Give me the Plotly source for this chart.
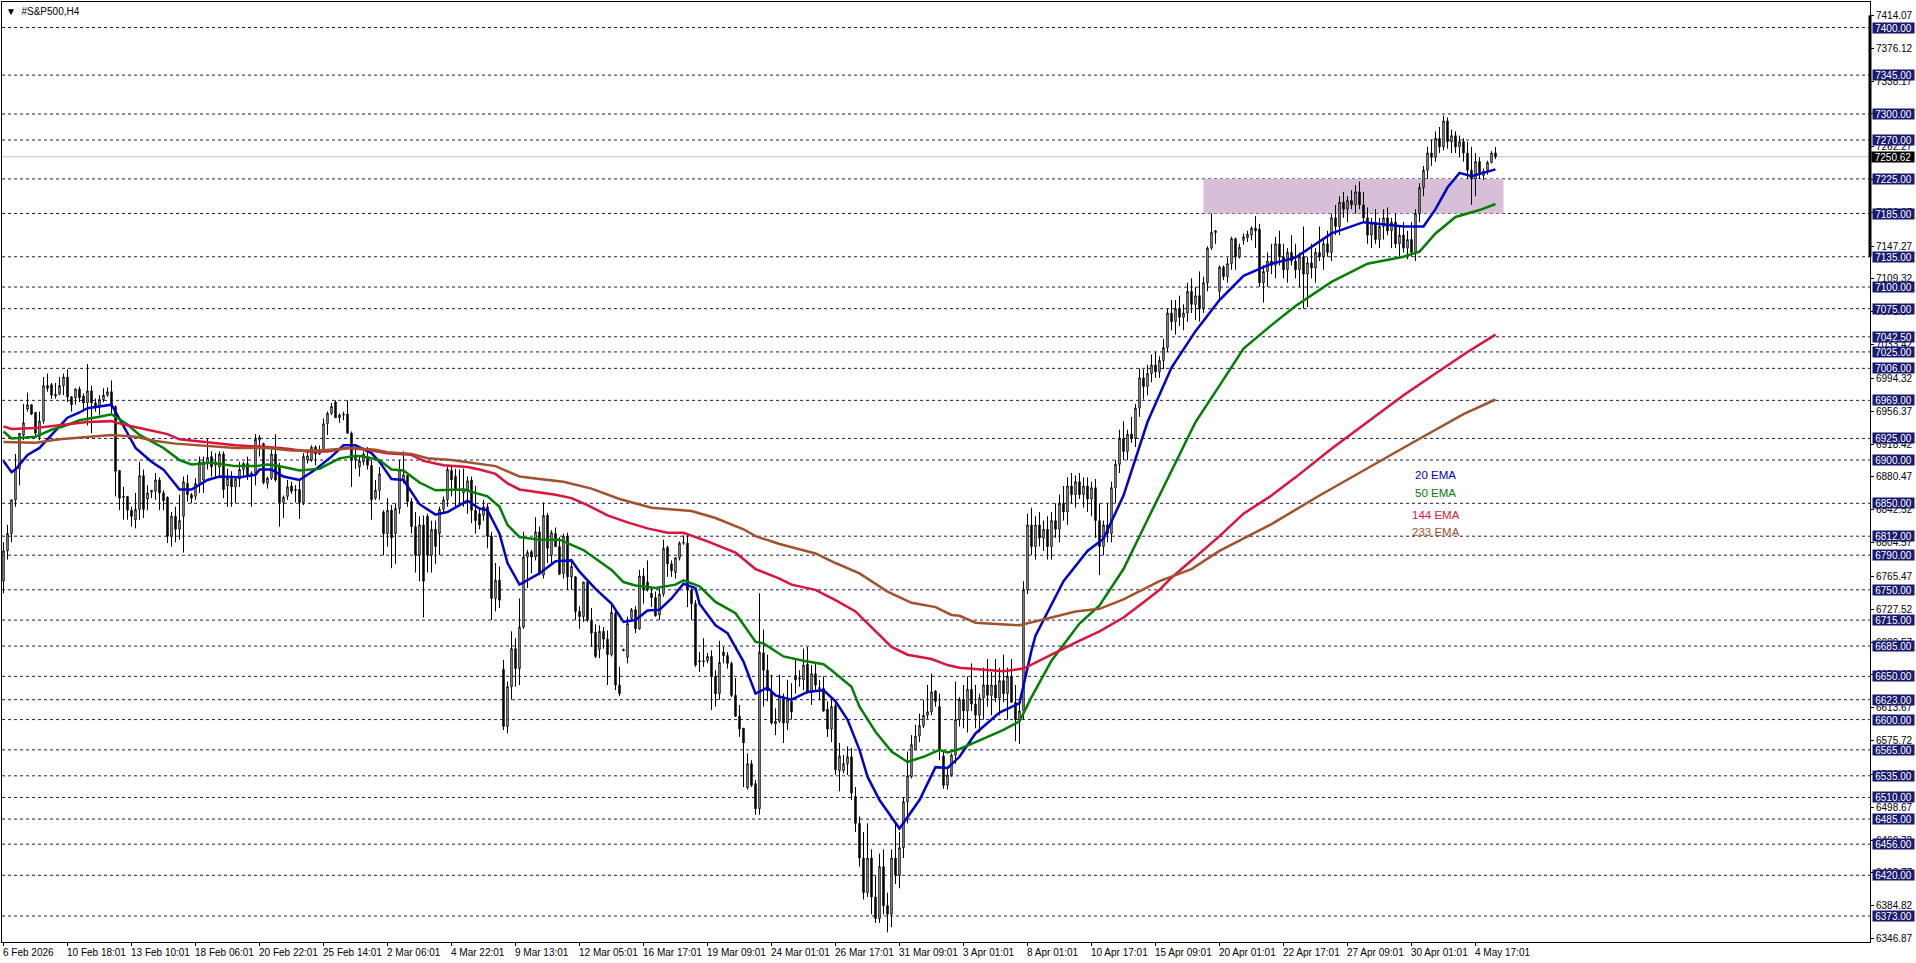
import plotly.graph_objects as go

# candles, one value per H4 bar, rows of ten
opens = [
    6760,6795,6815,6854,6890,6929,6959,6964,6955,6927,
    6945,6986,6987,6974,6976,6986,6996,6973,6972,6982,
    6974,6966,6980,6966,6962,6970,6975,6979,6962,6888,
    6858,6858,6842,6831,6843,6882,6855,6863,6864,6877,
    6862,6857,6812,6835,6820,6835,6873,6860,6858,6873,
    6877,6897,6904,6894,6892,6907,6870,6879,6869,6878,
    6889,6896,6883,6885,6923,6919,6873,6879,6907,6893,
    6851,6858,6870,6866,6866,6851,6900,6900,6915,6907,
    6911,6942,6954,6967,6949,6952,6953,6931,6900,6892,
    6898,6904,6894,6856,6865,6840,6815,6842,6815,6844,
    6877,6882,6852,6823,6790,6825,6835,6790,6820,6815,
    6843,6854,6888,6881,6865,6862,6865,6877,6842,6838,
    6836,6846,6812,6740,6761,6658,6592,6638,6682,6659,
    6707,6788,6794,6788,6817,6767,6836,6790,6815,6800,
    6769,6812,6765,6765,6725,6719,6759,6714,6701,6681,
    6702,6693,6675,6723,6640,6681,6672,6717,6727,6705,
    6766,6759,6746,6741,6721,6745,6799,6780,6770,6787,
    6804,6804,6750,6734,6668,6668,6668,6673,6650,6630,
    6678,6674,6665,6628,6604,6590,6521,6549,6526,6497,
    6677,6657,6632,6595,6598,6625,6596,6621,6651,6648,
    6646,6664,6631,6653,6637,6636,6612,6589,6616,6541,
    6541,6549,6557,6511,6480,6440,6400,6440,6395,6370,
    6430,6385,6375,6440,6420,6452,6505,6534,6565,6581,
    6593,6605,6609,6633,6615,6558,6524,6536,6559,6600,
    6623,6610,6635,6618,6605,6625,6640,6628,6640,6625,
    6645,6630,6650,6620,6600,6610,6750,6825,6800,6825,
    6810,6820,6800,6830,6820,6850,6840,6870,6860,6875,
    6860,6870,6855,6868,6830,6800,6825,6815,6868,6895,
    6925,6910,6930,6925,6960,6995,6985,7000,7010,7002,
    7015,7030,7070,7060,7075,7065,7070,7095,7080,7090,
    7075,7105,7145,7163,7095,7123,7112,7127,7156,7135,
    7154,7157,7160,7168,7167,7105,7118,7130,7125,7150,
    7135,7120,7140,7130,7120,7135,7115,7128,7122,7140,
    7135,7150,7140,7180,7170,7198,7190,7200,7195,7210,
    7195,7180,7160,7175,7155,7170,7180,7165,7175,7150,
    7160,7145,7155,7140,7185,7215,7235,7255,7250,7272,
    7262,7292,7268,7275,7262,7268,7255,7235,7225,7245,
    7229,7235,7244,7255,
]
highs = [
    6805,6825,6854,6907,6931,6965,6978,6964,6955,6956,
    6996,7000,6989,6989,6996,7000,7005,6974,6983,6985,
    6977,7011,6986,6971,6975,6983,6984,6992,6963,6888,
    6869,6858,6846,6862,6898,6889,6871,6865,6885,6880,
    6865,6858,6840,6846,6860,6881,6883,6862,6879,6904,
    6904,6925,6910,6908,6910,6910,6890,6887,6881,6898,
    6898,6904,6887,6930,6929,6920,6881,6912,6930,6897,
    6859,6877,6875,6871,6877,6908,6912,6917,6917,6917,
    6948,6956,6966,6969,6954,6956,6969,6933,6914,6904,
    6910,6915,6900,6877,6892,6842,6856,6848,6850,6900,
    6910,6883,6856,6840,6835,6836,6838,6830,6830,6846,
    6858,6892,6892,6890,6889,6890,6881,6881,6870,6845,
    6854,6850,6817,6781,6777,6669,6644,6702,6694,6740,
    6817,6796,6796,6834,6823,6851,6839,6819,6822,6811,
    6815,6816,6786,6766,6731,6759,6759,6729,6710,6709,
    6707,6703,6736,6727,6661,6682,6719,6729,6731,6773,
    6775,6784,6753,6748,6752,6808,6801,6784,6788,6806,
    6813,6813,6752,6738,6678,6694,6677,6680,6657,6691,
    6684,6678,6667,6648,6617,6590,6561,6553,6530,6746,
    6704,6675,6652,6613,6652,6630,6646,6642,6671,6657,
    6682,6684,6663,6665,6646,6650,6621,6626,6619,6573,
    6559,6569,6567,6522,6488,6470,6480,6450,6420,6445,
    6450,6400,6450,6480,6470,6510,6563,6582,6594,6607,
    6623,6640,6653,6634,6630,6565,6544,6561,6644,6626,
    6640,6650,6665,6640,6630,6660,6670,6655,6670,6660,
    6675,6660,6670,6640,6625,6760,6838,6845,6835,6840,
    6830,6835,6840,6850,6860,6870,6880,6885,6882,6885,
    6880,6880,6875,6878,6850,6830,6850,6875,6900,6935,
    6945,6935,6950,6965,7006,7005,7010,7022,7025,7020,
    7040,7075,7085,7085,7090,7080,7105,7110,7100,7118,
    7112,7147,7185,7166,7125,7125,7134,7158,7157,7150,
    7162,7165,7170,7182,7173,7125,7140,7150,7158,7165,
    7150,7145,7160,7150,7140,7170,7135,7150,7145,7170,
    7155,7165,7185,7195,7205,7210,7205,7212,7218,7222,
    7210,7192,7180,7190,7180,7190,7192,7180,7185,7170,
    7175,7165,7175,7190,7220,7240,7262,7270,7280,7285,
    7298,7296,7282,7280,7275,7272,7268,7262,7255,7250,
    7237,7246,7257,7262,
]
lows = [
    6746,6785,6805,6846,6871,6923,6956,6952,6927,6923,
    6942,6979,6971,6971,6975,6975,6967,6956,6964,6967,
    6956,6940,6931,6956,6952,6967,6973,6954,6858,6842,
    6831,6831,6823,6821,6831,6833,6842,6856,6854,6842,
    6842,6804,6800,6805,6808,6793,6852,6850,6854,6862,
    6862,6889,6881,6881,6879,6856,6846,6846,6850,6869,
    6881,6877,6846,6871,6904,6872,6867,6877,6875,6823,
    6833,6854,6861,6851,6832,6848,6896,6898,6894,6906,
    6910,6929,6952,6949,6943,6946,6931,6869,6890,6881,
    6894,6889,6831,6854,6854,6790,6800,6775,6780,6838,
    6873,6846,6815,6770,6760,6718,6770,6770,6780,6790,
    6838,6846,6858,6846,6848,6846,6838,6827,6815,6820,
    6830,6798,6715,6725,6729,6588,6584,6623,6638,6640,
    6705,6752,6769,6784,6767,6763,6781,6781,6800,6767,
    6763,6750,6750,6715,6705,6713,6713,6684,6671,6671,
    6682,6640,6673,6634,6627,6679,6665,6713,6700,6704,
    6734,6748,6730,6719,6715,6742,6765,6765,6763,6784,
    6802,6730,6715,6661,6655,6661,6665,6611,6615,6623,
    6665,6659,6626,6603,6580,6522,6519,6522,6490,6490,
    6615,6621,6594,6582,6596,6573,6588,6600,6630,6638,
    6634,6630,6617,6634,6623,6609,6580,6574,6536,6517,
    6538,6536,6507,6470,6430,6392,6395,6375,6365,6365,
    6375,6354,6360,6410,6405,6440,6480,6532,6565,6574,
    6590,6601,6605,6615,6553,6520,6519,6534,6549,6592,
    6590,6585,6610,6590,6585,6600,6615,6605,6620,6605,
    6620,6600,6625,6575,6572,6600,6745,6790,6785,6800,
    6795,6785,6785,6810,6805,6830,6825,6850,6845,6855,
    6845,6840,6835,6810,6767,6790,6805,6805,6850,6885,
    6900,6900,6920,6915,6950,6970,6975,6990,6995,6995,
    7005,7025,7050,7045,7055,7050,7060,7070,7062,7060,
    7070,7095,7143,7150,7085,7108,7105,7120,7120,7133,
    7149,7152,7154,7145,7100,7082,7100,7115,7110,7125,
    7110,7105,7125,7110,7100,7075,7077,7110,7105,7130,
    7120,7135,7130,7160,7160,7180,7175,7190,7185,7190,
    7175,7150,7145,7150,7145,7155,7160,7145,7145,7135,
    7140,7132,7135,7130,7175,7205,7225,7240,7245,7255,
    7258,7260,7255,7255,7250,7245,7225,7195,7205,7225,
    7224,7230,7243,7248,
]
closes = [
    6795,6815,6854,6890,6931,6943,6964,6953,6931,6945,
    6986,6983,6975,6976,6986,6996,6973,6964,6982,6972,
    6966,6980,6966,6961,6970,6975,6979,6962,6887,6856,
    6857,6842,6835,6843,6882,6843,6862,6865,6877,6862,
    6853,6812,6835,6820,6830,6875,6860,6856,6873,6898,
    6898,6903,6892,6898,6907,6866,6879,6869,6878,6889,
    6896,6882,6885,6924,6926,6874,6879,6907,6877,6851,
    6857,6869,6864,6865,6851,6904,6905,6915,6907,6911,
    6942,6954,6962,6949,6952,6953,6931,6900,6904,6899,
    6907,6894,6854,6865,6884,6815,6842,6810,6844,6889,
    6883,6852,6823,6790,6825,6760,6790,6820,6800,6843,
    6854,6889,6877,6865,6865,6867,6876,6842,6830,6825,
    6846,6812,6740,6761,6738,6592,6638,6682,6659,6707,
    6788,6793,6788,6817,6769,6836,6798,6816,6800,6768,
    6812,6765,6777,6725,6719,6759,6715,6700,6673,6702,
    6693,6675,6724,6640,6630,6680,6711,6727,6705,6766,
    6750,6750,6741,6720,6745,6798,6780,6772,6787,6804,
    6805,6750,6734,6663,6667,6667,6673,6650,6630,6666,
    6674,6665,6628,6604,6589,6573,6549,6524,6497,6678,
    6657,6633,6596,6598,6627,6596,6623,6609,6646,6647,
    6663,6632,6653,6640,6636,6610,6589,6615,6542,6558,
    6549,6557,6515,6480,6440,6400,6440,6395,6370,6430,
    6385,6375,6440,6420,6452,6505,6535,6571,6581,6593,
    6605,6609,6632,6621,6565,6524,6536,6559,6600,6623,
    6610,6635,6618,6605,6625,6640,6628,6640,6625,6645,
    6630,6650,6620,6600,6610,6750,6825,6800,6825,6810,
    6820,6800,6830,6820,6850,6840,6870,6860,6875,6860,
    6870,6855,6868,6830,6800,6825,6815,6868,6895,6925,
    6910,6930,6925,6960,6995,6985,7000,7010,7002,7015,
    7030,7070,7060,7075,7065,7070,7095,7080,7090,7075,
    7105,7145,7163,7165,7123,7112,7127,7156,7135,7146,
    7158,7161,7168,7165,7105,7118,7130,7125,7150,7135,
    7120,7140,7130,7120,7135,7115,7128,7122,7140,7135,
    7150,7140,7180,7170,7198,7190,7200,7195,7210,7195,
    7180,7160,7175,7155,7170,7180,7165,7175,7150,7160,
    7145,7155,7140,7185,7215,7235,7255,7250,7272,7262,
    7292,7268,7275,7262,7268,7255,7235,7225,7245,7230,
    7234,7244,7255,7250.62,
]

ema20_bars = [0,2,3,6,9,12,15,16,19,21,27,28,31,33,37,40,44,47,51,54,59,63,64,67,70,74,78,82,85,88,92,94,97,100,104,108,111,116,119,
              121,123,124,126,129,134,138,142,144,148,152,155,158,161,164,167,170,173,174,178,181,185,188,191,193,197,201,205,208,211,214,216,219,224,229,233,236,239,
              243,249,254,257,258,265,271,275,280,286,292,298,304,310,317,323,332,340,350,355,358,361,364,367,370,373]
ema20_vals = [6899,6886,6889,6906,6914,6929,6944,6949,6955,6960,6964,6956,6931,6914,6898,6889,6866,6866,6877,6881,6880,6883,6889,6889,6881,6877,6889,6904,6917,6917,6908,6898,6878,6877,6849,6837,6840,6853,6844,
              6842,6825,6815,6781,6756,6769,6783,6784,6771,6751,6734,6713,6715,6726,6727,6740,6757,6752,6734,6709,6700,6667,6630,6637,6628,6623,6632,6634,6621,6600,6565,6534,6507,6474,6507,6545,6544,6557,
              6584,6608,6619,6680,6697,6760,6795,6809,6859,6944,7007,7049,7085,7113,7127,7134,7162,7175,7170,7170,7190,7215,7232,7228,7232,7236]

ema50_bars = [0,2,8,12,15,19,24,27,31,34,40,44,47,52,58,63,66,68,74,79,84,88,90,94,97,100,104,108,115,119,
              121,124,126,129,134,139,145,152,155,158,163,168,170,174,178,183,188,190,195,200,205,207,212,214,218,222,226,230,234,236,239,
              243,250,254,257,262,269,274,280,286,292,298,304,310,317,323,332,341,350,354,358,363,369,373]
ema50_vals = [6933,6925,6927,6935,6939,6946,6950,6953,6941,6929,6914,6900,6895,6897,6893,6893,6895,6894,6888,6890,6902,6905,6904,6900,6889,6888,6874,6865,6866,6861,
              6858,6846,6825,6811,6808,6808,6796,6773,6759,6755,6752,6756,6761,6754,6736,6723,6690,6688,6673,6668,6664,6657,6638,6615,6586,6563,6551,6557,6565,6562,6566,
              6574,6588,6598,6626,6668,6711,6732,6774,6831,6887,6944,6986,7029,7056,7078,7106,7127,7135,7141,7162,7181,7189,7196]

ema144_bars = [0,2,8,12,16,21,27,30,36,41,44,52,58,66,71,76,81,86,91,96,102,105,110,116,119,
               123,126,129,138,142,146,151,156,161,166,170,176,183,188,194,197,203,208,213,217,222,226,232,236,239,
               250,255,262,268,274,280,286,289,292,298,304,310,317,323,332,341,350,358,366,373]
ema144_vals = [6939,6936,6937,6939,6941,6944,6945,6941,6935,6930,6924,6920,6917,6915,6913,6910,6910,6914,6912,6908,6906,6899,6894,6892,6889,
               6884,6873,6866,6860,6856,6848,6836,6828,6821,6816,6816,6806,6793,6774,6763,6756,6750,6738,6725,6707,6684,6675,6670,6663,6660,
               6656,6659,6675,6689,6702,6718,6739,6750,6764,6788,6812,6838,6859,6880,6913,6944,6975,7000,7025,7045]

ema233_bars = [0,8,14,21,27,33,38,43,49,58,66,72,79,87,93,96,102,106,112,119,
               123,126,129,134,140,147,154,162,172,178,185,188,194,203,208,214,221,227,233,237,239,
               243,254,262,268,274,280,289,297,304,317,329,341,353,365,373]
ema233_vals = [6921,6920,6924,6927,6929,6927,6922,6919,6917,6914,6914,6911,6911,6914,6912,6909,6907,6902,6900,6896,
               6893,6887,6881,6878,6875,6867,6855,6845,6841,6833,6820,6812,6803,6792,6781,6769,6748,6735,6730,6721,6720,
               6712,6709,6718,6725,6728,6739,6760,6774,6795,6826,6859,6891,6922,6953,6970]

# horizontal levels with their blue price flags
levels = [7400,7345,7300,7270,7225,7185,7135,7100,7075,7042.5,7025,7006,6969,6925,6900,6850,6812,6790,
          6750,6715,6685,6650,6623,6600,6565,6535,6510,6485,6456,6420,6373]
last_price = 7250.62
zone_low, zone_high = 7185, 7225
zone_first_bar, zone_last_bar = 300, 375
scale_mark_top, scale_mark_bottom = 7414.07, 7135

price_ticks = [7414.07,7376.12,7338.17,7300.22,7262.27,7224.32,7186.37,7147.27,7109.32,7071.37,7033.42,6994.32,
               6956.37,6918.42,6880.47,6842.52,6804.57,6765.47,6727.52,6689.57,6651.62,6613.67,6575.72,6536.62,
               6498.67,6460.72,6422.77,6384.82,6346.87]

bars_per_label = 16
time_labels = ["6 Feb 2026","10 Feb 18:01","13 Feb 10:01","18 Feb 06:01","20 Feb 22:01","25 Feb 14:01","2 Mar 06:01",
               "4 Mar 22:01","9 Mar 13:01","12 Mar 05:01","16 Mar 17:01","19 Mar 09:01","24 Mar 01:01","26 Mar 17:01",
               "31 Mar 09:01","3 Apr 01:01","8 Apr 01:01","10 Apr 17:01","15 Apr 09:01","20 Apr 01:01","22 Apr 17:01",
               "27 Apr 09:01","30 Apr 01:01","4 May 17:01"]

ema_names = ["20 EMA","50 EMA","144 EMA","233 EMA"]
ema_label_y = [6883,6862,6837,6817]

BLUE = "#0000CD"
GREEN = "#008000"
RED = "#DC143C"
BROWN = "#A0522D"
NAVY = "#191970"
FONT = "Liberation Sans"

bars = list(range(len(opens)))
tick_bars = [i * bars_per_label for i in range(len(time_labels))]

fig = go.Figure()

fig.add_shape(type="rect", x0=zone_first_bar, x1=zone_last_bar, y0=zone_low, y1=zone_high,
              fillcolor="#D8BFD8", line_width=0, layer="below")
for lvl in levels:
    fig.add_hline(y=lvl, line=dict(color=NAVY, width=1, dash="3px,3px"), layer="below")
fig.add_hline(y=last_price, line=dict(color="#C0C0C0", width=1), layer="below")

fig.add_trace(go.Candlestick(
    x=bars, open=opens, high=highs, low=lows, close=closes,
    increasing=dict(line=dict(color="black", width=1), fillcolor="white"),
    decreasing=dict(line=dict(color="black", width=1), fillcolor="black"),
    whiskerwidth=0, hoverinfo="skip", showlegend=False,
))
for xs, ys, col in [(ema20_bars, ema20_vals, BLUE), (ema50_bars, ema50_vals, GREEN),
                    (ema144_bars, ema144_vals, RED), (ema233_bars, ema233_vals, BROWN)]:
    fig.add_trace(go.Scatter(x=xs, y=ys, mode="lines", line=dict(color=col, width=2.5),
                             hoverinfo="skip", showlegend=False))

fig.add_shape(type="line", xref="paper", x0=1, x1=1, y0=scale_mark_bottom, y1=scale_mark_top,
              line=dict(color="black", width=3))

# price flags on the right scale
for lvl in levels:
    fig.add_annotation(xref="paper", x=1, y=lvl, text=f"{lvl:.2f}", showarrow=False, xanchor="left", xshift=2,
                       width=41, height=10, borderpad=0, bgcolor=NAVY, font=dict(family=FONT, size=10, color="white"))
fig.add_annotation(xref="paper", x=1, y=last_price, text=f"{last_price:.2f}", showarrow=False, xanchor="left", xshift=1,
                   width=42, height=10, borderpad=0, bgcolor="black", font=dict(family=FONT, size=10, color="white"))

# time labels start at their tick, they are not centred on it
for b, lab in zip(tick_bars, time_labels):
    fig.add_annotation(x=b, yref="paper", y=0, text=lab, showarrow=False, xanchor="left", yanchor="top",
                       xshift=-3, yshift=-3, font=dict(family=FONT, size=10, color="black"))

for name, y, col in zip(ema_names, ema_label_y, [BLUE, GREEN, RED, BROWN]):
    fig.add_annotation(x=358, y=y, text=name, showarrow=False, font=dict(family=FONT, size=11.5, color=col))

fig.add_annotation(xref="paper", yref="paper", x=0, y=1, text="▼  #S&P500,H4", showarrow=False,
                   xanchor="left", yanchor="top", xshift=2, yshift=-2, font=dict(family=FONT, size=10, color="black"))

# range starts at -0.375 so the 1px wicks land on whole pixels
fig.update_layout(
    width=1916, height=963, autosize=False,
    margin=dict(l=2, r=46, t=2, b=21),
    paper_bgcolor="white", plot_bgcolor="white",
    boxgap=0.5, showlegend=False,
    xaxis=dict(range=[-0.375, 466.625], showgrid=False, zeroline=False, rangeslider=dict(visible=False),
               showline=True, mirror=True, linecolor="black", linewidth=1,
               tickmode="array", tickvals=tick_bars, ticktext=[""] * len(tick_bars),
               ticks="outside", ticklen=3, tickcolor="black"),
    yaxis=dict(range=[6342.9, 7429.5], side="right", showgrid=False, zeroline=False,
               showline=True, mirror=True, linecolor="black", linewidth=1,
               tickmode="array", tickvals=price_ticks, ticktext=[f"{t:.2f}" for t in price_ticks],
               ticks="outside", ticklen=3, tickcolor="black",
               tickfont=dict(family=FONT, size=10, color="black")),
)

fig.write_html("out.html", config=dict(displayModeBar=False),
               post_script="document.body.style.margin='0';")
